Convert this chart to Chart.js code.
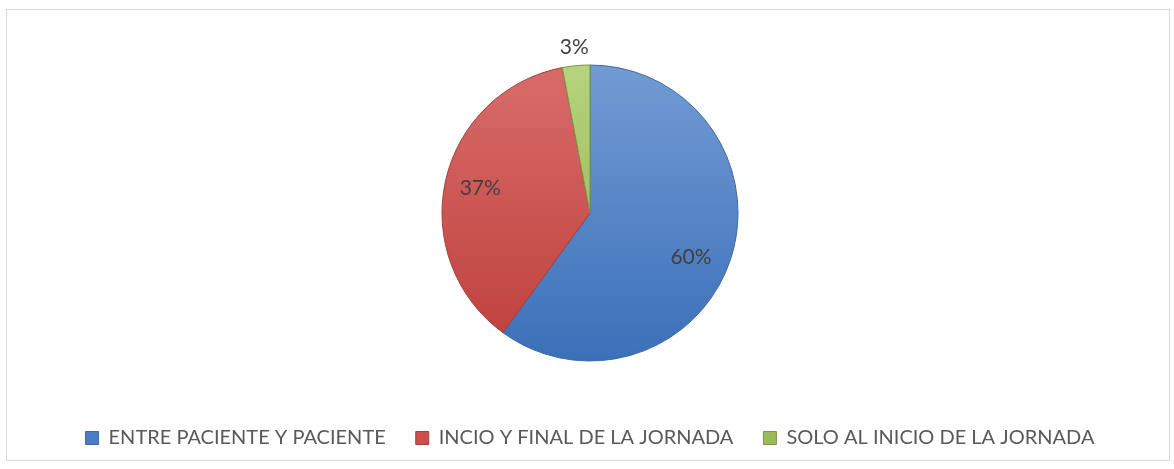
<!DOCTYPE html>
<html><head><meta charset="utf-8">
<script src="https://cdn.jsdelivr.net/npm/chart.js@4.4.1/dist/chart.umd.min.js"></script>
<style>
html,body{margin:0;padding:0;background:#fff;width:1174px;height:469px;overflow:hidden}
#frame{position:absolute;left:6px;top:9px;width:1164px;height:452px;border:1px solid #d9d9d9;box-sizing:border-box}
#wrap{position:absolute;left:0;top:0;width:1174px;height:469px}
</style></head>
<body>
<div id="frame"></div>
<div id="wrap"><canvas id="c"></canvas></div>
<script>
const categories = ['ENTRE PACIENTE Y PACIENTE', 'INCIO Y FINAL DE LA JORNADA', 'SOLO AL INICIO DE LA JORNADA'];
const shares = [60, 37, 3];
const percentLabels = ['60%', '37%', '3%'];

const solidColors = ['#4A7EC4', '#C9504C', '#9BBB59'];
const topColors = ['#729BD4', '#D86C69', '#B7D37E'];
const bottomColors = ['#3B70B8', '#BE3F3B', '#8BAF48'];
const edgeColors = ['#3F6AA3', '#A53F3B', '#7A9646'];

function sliceFill(ctx) {
  const chart = ctx.chart;
  const a = chart.chartArea;
  const i = ctx.dataIndex;
  if (!a) return solidColors[i];
  const cy = (a.top + a.bottom) / 2;
  const r = 148;
  const g = chart.ctx.createLinearGradient(0, cy - r, 0, cy + r);
  g.addColorStop(0, topColors[i]);
  g.addColorStop(1, bottomColors[i]);
  return g;
}

const sliceLabels = {
  id: 'sliceLabels',
  afterDatasetsDraw(chart, args, opts) {
    const meta = chart.getDatasetMeta(0);
    const ctx = chart.ctx;
    ctx.save();
    ctx.font = opts.size + 'px ' + opts.family;
    ctx.fillStyle = opts.color;
    ctx.textAlign = 'center';
    ctx.textBaseline = 'middle';
    meta.data.forEach((arc, i) => {
      const p = arc.getProps(['x', 'y', 'startAngle', 'endAngle', 'outerRadius'], true);
      const mid = (p.startAngle + p.endAngle) / 2;
      const frac = (p.endAngle - p.startAngle) / (2 * Math.PI);
      const r = frac < 0.05 ? p.outerRadius + opts.outsideGap : p.outerRadius * opts.insideFrac;
      const o = opts.offsets[i] || [0, 0];
      ctx.fillText(percentLabels[i], p.x + Math.cos(mid) * r + o[0], p.y + Math.sin(mid) * r + o[1]);
    });
    ctx.restore();
  }
};

new Chart(document.getElementById('c'), {
  type: 'pie',
  data: {
    labels: categories,
    datasets: [{
      data: shares,
      backgroundColor: sliceFill,
      borderColor: edgeColors,
      borderWidth: 1,
      radius: 148
    }]
  },
  options: {
    responsive: true,
    maintainAspectRatio: false,
    animation: false,
    layout: { padding: { left: 6, top: 28, bottom: 11, right: 0 } },
    plugins: {
      tooltip: { enabled: false },
      legend: {
        position: 'bottom',
        labels: {
          boxWidth: 13,
          boxHeight: 13,
          padding: 30,
          color: '#595959',
          font: { family: 'Lato', size: 20 },
          generateLabels: () => categories.map((c, i) => ({
            text: c, fillStyle: solidColors[i], strokeStyle: edgeColors[i],
            lineWidth: 1, hidden: false, index: i, fontColor: '#595959'
          }))
        }
      },
      sliceLabels: { family: 'Lato', size: 21, color: '#404040', insideFrac: 0.76, outsideGap: 19, offsets: [[-6, 9], [0, 0], [0, 0]] }
    }
  },
  plugins: [sliceLabels]
});
</script>
</body></html>
